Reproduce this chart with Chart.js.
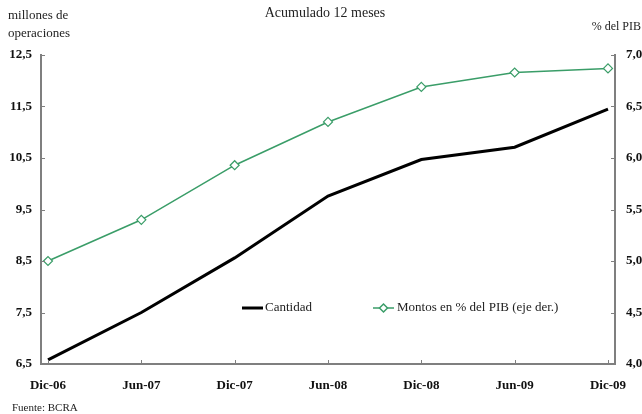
<!DOCTYPE html>
<html>
<head>
<meta charset="utf-8">
<script src="https://cdn.jsdelivr.net/npm/chart.js@4/dist/chart.umd.min.js"></script>
<style>
html,body{margin:0;padding:0;background:#fff;}
#wrap{width:642px;height:414px;position:relative;}
</style>
</head>
<body>
<div id="wrap"><canvas id="c" width="642" height="414"></canvas></div>
<script>
const categories = ["Dic-06","Jun-07","Dic-07","Jun-08","Dic-08","Jun-09","Dic-09"];
const cantidad = [6.58, 7.50, 8.56, 9.76, 10.47, 10.71, 11.45];
const montosPIB = [5.00, 5.40, 5.93, 6.35, 6.69, 6.83, 6.87];
const leftTicks = [6.5, 7.5, 8.5, 9.5, 10.5, 11.5, 12.5];
const rightTicks = [4.0, 4.5, 5.0, 5.5, 6.0, 6.5, 7.0];

const FONT = "'Liberation Serif', 'DejaVu Serif', serif";
const GREEN = "#3a9d68";
const AXIS = "#7f7f7f";

const fmt = v => v.toFixed(1).replace('.', ',');

const decor = {
  id: 'decor',
  afterDraw(chart) {
    const ctx = chart.ctx;
    const ca = chart.chartArea;
    const x = chart.scales.x, yl = chart.scales.y, yr = chart.scales.y1;
    ctx.save();
    ctx.strokeStyle = AXIS;
    ctx.lineWidth = 1;
    // inward tick marks
    x.ticks.forEach(t => {
      const px = Math.round(x.getPixelForValue(t.value)) + 0.5;
      ctx.beginPath(); ctx.moveTo(px, ca.bottom); ctx.lineTo(px, ca.bottom - 4); ctx.stroke();
    });
    yl.ticks.forEach(t => {
      const py = Math.round(yl.getPixelForValue(t.value)) + 0.5;
      ctx.beginPath(); ctx.moveTo(ca.left, py); ctx.lineTo(ca.left + 4, py); ctx.stroke();
    });
    yr.ticks.forEach(t => {
      const py = Math.round(yr.getPixelForValue(t.value)) + 0.5;
      ctx.beginPath(); ctx.moveTo(ca.right, py); ctx.lineTo(ca.right - 4, py); ctx.stroke();
    });
    // texts
    ctx.fillStyle = '#222';
    ctx.textBaseline = 'middle';
    ctx.textAlign = 'center';
    ctx.font = "14px " + FONT;
    ctx.fillText('Acumulado 12 meses', 325, 13);
    ctx.font = "13px " + FONT;
    ctx.textAlign = 'left';
    ctx.fillText('millones de', 8, 16);
    ctx.fillText('operaciones', 8, 34);
    ctx.font = "12px " + FONT;
    ctx.textAlign = 'right';
    ctx.fillText('% del PIB', 641, 27);
    ctx.textAlign = 'left';
    ctx.font = "11px " + FONT;
    ctx.fillText('Fuente: BCRA', 12, 408);
    // legend
    ctx.font = "13px " + FONT;
    const ly = 308;
    ctx.strokeStyle = '#000'; ctx.lineWidth = 3;
    ctx.beginPath(); ctx.moveTo(242, ly); ctx.lineTo(263, ly); ctx.stroke();
    ctx.fillStyle = '#222';
    ctx.fillText('Cantidad', 265, ly);
    ctx.strokeStyle = GREEN; ctx.lineWidth = 1.5;
    ctx.beginPath(); ctx.moveTo(373, ly); ctx.lineTo(394, ly); ctx.stroke();
    ctx.fillStyle = '#fff';
    ctx.beginPath(); ctx.moveTo(383.5, ly - 4); ctx.lineTo(387.5, ly); ctx.lineTo(383.5, ly + 4); ctx.lineTo(379.5, ly); ctx.closePath();
    ctx.fill(); ctx.stroke();
    ctx.fillStyle = '#222';
    ctx.fillText('Montos en % del PIB (eje der.)', 397, ly);
    ctx.restore();
  }
};

new Chart(document.getElementById('c'), {
  type: 'line',
  data: {
    datasets: [
      {
        label: 'Cantidad',
        data: cantidad.map((v, i) => ({x: i, y: v})),
        yAxisID: 'y',
        borderColor: '#000',
        borderWidth: 3,
        pointRadius: 0,
        tension: 0,
        order: 2
      },
      {
        label: 'Montos en % del PIB (eje der.)',
        data: montosPIB.map((v, i) => ({x: i, y: v})),
        yAxisID: 'y1',
        borderColor: GREEN,
        borderWidth: 1.5,
        pointStyle: 'rectRot',
        pointRadius: 4.5,
        pointBackgroundColor: '#fff',
        pointBorderColor: GREEN,
        pointBorderWidth: 1.2,
        tension: 0,
        order: 1
      }
    ]
  },
  options: {
    responsive: false,
    animation: false,
    layout: {padding: {top: 55, left: 0, right: 0, bottom: 0}},
    plugins: {legend: {display: false}, tooltip: {enabled: false}, title: {display: false}},
    scales: {
      x: {
        type: 'linear',
        min: -0.075,
        max: categories.length - 1 + 0.075,
        afterBuildTicks: s => { s.ticks = categories.map((_, i) => ({value: i})); },
        afterFit: s => { s.height = 50; },
        grid: {display: true, drawOnChartArea: false, drawTicks: false},
        border: {display: true, color: AXIS, width: 2},
        ticks: {
          padding: 14,
          autoSkip: false,
          maxRotation: 0,
          color: '#111',
          font: {family: FONT, size: 13, weight: 'bold'},
          callback: v => categories[v] ?? ''
        }
      },
      y: {
        position: 'left',
        min: 6.5, max: 12.5,
        afterBuildTicks: s => { s.ticks = leftTicks.map(v => ({value: v})); },
        afterFit: s => { s.width = 41; },
        grid: {display: true, drawOnChartArea: false, drawTicks: false},
        border: {display: true, color: AXIS, width: 2},
        ticks: {
          padding: 9,
          color: '#111',
          font: {family: FONT, size: 13, weight: 'bold'},
          callback: v => fmt(v)
        }
      },
      y1: {
        position: 'right',
        min: 4.0, max: 7.0,
        afterBuildTicks: s => { s.ticks = rightTicks.map(v => ({value: v})); },
        afterFit: s => { s.width = 27; },
        grid: {display: true, drawOnChartArea: false, drawTicks: false},
        border: {display: true, color: AXIS, width: 2},
        ticks: {
          padding: 11,
          color: '#111',
          font: {family: FONT, size: 13, weight: 'bold'},
          callback: v => fmt(v)
        }
      }
    }
  },
  plugins: [decor]
});
</script>
</body>
</html>
